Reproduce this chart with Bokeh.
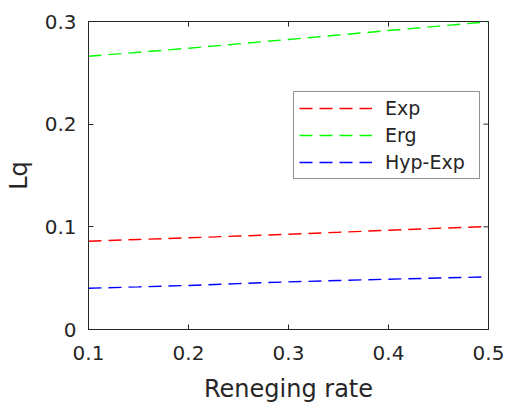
from math import pi
from bokeh.plotting import figure
from bokeh.models import Range1d, FixedTicker, Legend, LegendItem
from bokeh.embed import file_html
from bokeh.resources import INLINE

# Data
reneging_rate = [0.10, 0.15, 0.20, 0.25, 0.30, 0.35, 0.40, 0.45, 0.50]
lq_exp = [0.0860, 0.0877, 0.0893, 0.0910, 0.0928, 0.0947, 0.0967, 0.0986, 0.1003]
lq_erg = [0.2662, 0.2700, 0.2740, 0.2782, 0.2825, 0.2868, 0.2912, 0.2955, 0.2998]
lq_hypexp = [0.0402, 0.0415, 0.0429, 0.0447, 0.0464, 0.0477, 0.0490, 0.0501, 0.0513]

x_ticks = [0.1, 0.2, 0.3, 0.4, 0.5]
y_ticks = [0, 0.1, 0.2, 0.3]
x_min, x_max = 0.1, 0.5
y_min, y_max = 0.0, 0.3
series_names = ["Exp", "Erg", "Hyp-Exp"]
series_colors = ["#ff0000", "#00ff00", "#0000ff"]

FONT = "DejaVu Sans"
INK = "#262626"

p = figure(width=505, height=406, output_backend="svg", toolbar_location=None,
           x_range=Range1d(x_min, x_max), y_range=Range1d(y_min, y_max),
           min_border_left=88, min_border_right=17, min_border_top=21, min_border_bottom=77)
p.grid.visible = False
p.outline_line_color = INK
p.outline_line_width = 1
p.background_fill_color = "white"
p.border_fill_color = "white"

renderers = []
for ys, c in zip([lq_exp, lq_erg, lq_hypexp], series_colors):
    r = p.line(reneging_rate, ys, line_color=c, line_width=1.4, line_dash="13 7")
    renderers.append(r)

# inward ticks on the top and right edges of the box (half of each dash is clipped by the frame)
p.scatter(x=x_ticks, y=[y_max] * len(x_ticks), marker="dash", size=10, angle=pi / 2,
          line_color=INK, line_width=1)
p.scatter(x=[x_max] * len(y_ticks), y=y_ticks, marker="dash", size=10,
          line_color=INK, line_width=1)

xa = p.xaxis[0]
ya = p.yaxis[0]
xa.ticker = FixedTicker(ticks=x_ticks)
ya.ticker = FixedTicker(ticks=y_ticks)
xa.major_label_overrides = {0.1: "0.1", 0.2: "0.2", 0.3: "0.3", 0.4: "0.4", 0.5: "0.5"}
ya.major_label_overrides = {0: "0", 0.1: "0.1", 0.2: "0.2", 0.3: "0.3"}
for ax in (xa, ya):
    ax.axis_line_color = INK
    ax.axis_line_width = 1
    ax.major_tick_line_color = INK
    ax.major_tick_in = 5
    ax.major_tick_out = 0
    ax.minor_tick_line_color = None
    ax.major_label_text_font = FONT
    ax.major_label_text_color = INK
    ax.major_label_text_font_size = "20px"
    ax.axis_label_text_font = FONT
    ax.axis_label_text_font_size = "24px"
    ax.axis_label_text_font_style = "normal"
    ax.axis_label_text_color = INK
xa.major_label_text_line_height = 1.0
xa.axis_label_text_line_height = 1.0
xa.major_label_standoff = 16
ya.major_label_standoff = 12
xa.axis_label = "Reneging rate"
ya.axis_label = "Lq"
xa.axis_label_standoff = 12
ya.axis_label_standoff = 9

items = [LegendItem(label=n, renderers=[r]) for n, r in zip(series_names, renderers)]
legend = Legend(items=items, location=(205, 150))
legend.label_text_font = FONT
legend.label_text_font_size = "19px"
legend.label_text_color = INK
legend.border_line_color = INK
legend.border_line_width = 1
legend.background_fill_color = "white"
legend.background_fill_alpha = 1
legend.padding = 5
legend.margin = 0
legend.spacing = 5
legend.glyph_width = 73
legend.glyph_height = 22
legend.label_height = 22
legend.label_width = 89
legend.label_standoff = 13
p.add_layout(legend, "center")

open("out.html", "w").write(file_html(p, INLINE))
